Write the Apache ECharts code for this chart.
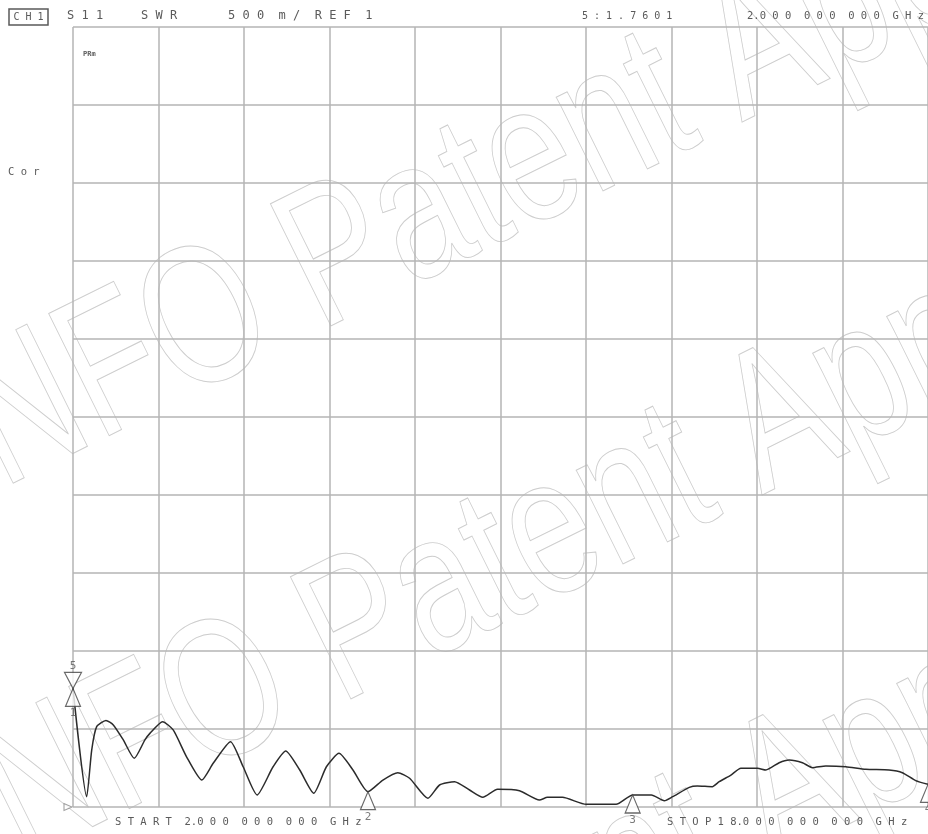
<!DOCTYPE html>
<html>
<head>
<meta charset="utf-8">
<script src="https://cdn.jsdelivr.net/npm/echarts@6/dist/echarts.min.js"></script>
<style>
html,body{margin:0;padding:0;background:#fff;}
#chart{width:928px;height:834px;}
</style>
</head>
<body>
<div id="chart"></div>
<script>
// Trace: S11 SWR vs frequency (GHz)
var freqGHz = [2.000, 2.256, 2.350, 2.443, 2.617, 2.754, 2.941, 3.146, 3.346, 3.439, 3.677, 3.875, 4.125, 4.411, 4.623, 4.948, 5.184, 5.445, 5.744, 5.981, 6.243, 6.505, 6.742, 6.978, 7.239, 7.520, 7.800, 8.080, 8.299, 8.641, 8.860, 9.140, 9.421, 9.669, 9.944, 10.355, 10.729, 10.879, 11.159, 11.602, 12.163, 12.473, 12.823, 13.066, 13.221, 13.533, 13.682, 13.963, 14.093, 14.312, 14.499, 14.809, 14.966, 15.215, 15.402, 15.650, 15.837, 16.088, 16.462, 16.836, 17.271, 17.520, 17.770, 18.000];
var swr = [1.760, 1.066, 1.365, 1.515, 1.555, 1.526, 1.430, 1.312, 1.430, 1.472, 1.547, 1.494, 1.322, 1.173, 1.280, 1.419, 1.258, 1.077, 1.258, 1.359, 1.237, 1.088, 1.258, 1.344, 1.237, 1.098, 1.173, 1.220, 1.184, 1.056, 1.141, 1.162, 1.109, 1.062, 1.113, 1.104, 1.045, 1.062, 1.062, 1.017, 1.017, 1.077, 1.077, 1.040, 1.066, 1.126, 1.135, 1.130, 1.162, 1.205, 1.248, 1.248, 1.237, 1.284, 1.301, 1.284, 1.252, 1.263, 1.258, 1.242, 1.237, 1.220, 1.169, 1.145];

// Markers (up-pointing, below trace)
var markerIds = ['1', '2', '3', '4'];
var markerFreq = [2.000, 7.520, 12.473, 18.000];
var markerSwr = [1.7601, 1.098, 1.077, 1.145];
// Active marker 5 (down-pointing, above trace)
var marker5Freq = 2.000;
var marker5Swr = 1.7601;
// Reference level
var refLevel = 1;

// Axis scale: 500 m/div, REF 1, 10 divisions; 2-18 GHz, 10 divisions
var yMin = 1, yMax = 6, yDiv = 0.5;
var fStart = 2, fStop = 18;
var xDivisions = 10;

// Annotation texts
var txtHeader = ['S 1 1', 'S W R', '5 0 0  m /  R E F  1'];
var txtMarker = '5 : 1 . 7 6 0 1';
var txtMarkerFreq = '2.0 0 0  0 0 0  0 0 0  G H z';
var txtStart = 'S T A R T  2.0 0 0  0 0 0  0 0 0  G H z';
var txtStop = 'S T O P 1 8.0 0 0  0 0 0  0 0 0  G H z';
var txtCh = 'C H 1';
var txtCor = 'C o r';
var txtWatermark = 'INFO Patent Application';

var chart = echarts.init(document.getElementById('chart'), null, {renderer: 'canvas'});
var mono = 'DejaVu Sans Mono';
var tc = '#5a5a5a';
var gridColor = '#b4b4b4';

var traceData = freqGHz.map(function (f, i) { return [f, swr[i]]; });
var upMarkers = markerFreq.map(function (f, i) { return {value: [f, markerSwr[i]], name: markerIds[i]}; });

function wmText(x, y) {
  return {
    type: 'text', x: x, y: y, rotation: 0.46, scaleX: 0.75, silent: true, z: -10,
    style: {
      text: txtWatermark, fontSize: 198, fontFamily: 'Liberation Sans',
      fill: 'none', stroke: '#cdcdcd', lineWidth: 1, align: 'left', verticalAlign: 'middle'
    }
  };
}

var option = {
  backgroundColor: '#ffffff',
  animation: false,
  grid: {left: 73, top: 27, width: 856, height: 780, containLabel: false},
  xAxis: [
    {type: 'value', min: fStart, max: fStop, show: false},
    {type: 'value', min: 0, max: xDivisions, interval: 1, show: true,
      axisLine: {show: false}, axisTick: {show: false}, axisLabel: {show: false},
      splitLine: {show: true, lineStyle: {color: gridColor, width: 1.5}}}
  ],
  yAxis: {
    type: 'value', min: yMin, max: yMax, interval: yDiv,
    axisLine: {show: false}, axisTick: {show: false}, axisLabel: {show: false},
    splitLine: {show: true, lineStyle: {color: gridColor, width: 1.5}}
  },
  graphic: [
    wmText(-59, 458), wmText(-39, 831), wmText(-29, 1198),
    {type: 'rect', shape: {x: 9, y: 9, width: 39, height: 16},
      style: {fill: 'none', stroke: tc, lineWidth: 1.5}},
    {type: 'text', x: 28.5, y: 17, style: {text: txtCh, fontFamily: mono, fontSize: 10, fill: tc, align: 'center', verticalAlign: 'middle'}},
    {type: 'text', x: 67, y: 16, style: {text: txtHeader[0], fontFamily: mono, fontSize: 12, fill: tc, align: 'left', verticalAlign: 'middle'}},
    {type: 'text', x: 141, y: 16, style: {text: txtHeader[1], fontFamily: mono, fontSize: 12, fill: tc, align: 'left', verticalAlign: 'middle'}},
    {type: 'text', x: 228, y: 16, style: {text: txtHeader[2], fontFamily: mono, fontSize: 12, fill: tc, align: 'left', verticalAlign: 'middle'}},
    {type: 'text', x: 582, y: 16, style: {text: txtMarker, fontFamily: mono, fontSize: 10, fill: tc, align: 'left', verticalAlign: 'middle'}},
    {type: 'text', x: 747, y: 16, style: {text: txtMarkerFreq, fontFamily: mono, fontSize: 10.5, fill: tc, align: 'left', verticalAlign: 'middle'}},
    {type: 'text', x: 8, y: 172, style: {text: txtCor, fontFamily: mono, fontSize: 10.5, fill: tc, align: 'left', verticalAlign: 'middle'}},
    {type: 'text', x: 83, y: 54, style: {text: 'PRm', fontFamily: mono, fontSize: 7, fontWeight: 'bold', fill: tc, align: 'left', verticalAlign: 'middle'}},
    {type: 'text', x: 115, y: 822, style: {text: txtStart, fontFamily: mono, fontSize: 10.5, fill: tc, align: 'left', verticalAlign: 'middle'}},
    {type: 'text', x: 667, y: 822, style: {text: txtStop, fontFamily: mono, fontSize: 10.5, fill: tc, align: 'left', verticalAlign: 'middle'}}
  ],
  series: [
    {
      type: 'line', name: 'S11 SWR', xAxisIndex: 0, data: traceData,
      symbol: 'none', smooth: 0.2, z: 3,
      lineStyle: {color: '#2b2b2b', width: 1.5}
    },
    {
      type: 'scatter', name: 'markers', xAxisIndex: 0, data: upMarkers, z: 4,
      symbol: 'triangle', symbolSize: [15, 18], symbolOffset: [0, 9],
      itemStyle: {color: '#ffffff', borderColor: '#444', borderWidth: 1.2},
      label: {show: true, position: 'bottom', distance: 1, formatter: '{b}',
        fontFamily: mono, fontSize: 11, color: tc}
    },
    {
      type: 'scatter', name: 'marker5', xAxisIndex: 0, z: 4,
      data: [{value: [marker5Freq, marker5Swr], name: '5'}],
      symbol: 'triangle', symbolRotate: 180, symbolSize: [17, 16], symbolOffset: [0, -8],
      itemStyle: {color: '#ffffff', borderColor: '#444', borderWidth: 1.2},
      label: {show: true, position: 'top', distance: 0, formatter: '{b}',
        fontFamily: mono, fontSize: 11, color: tc}
    },
    {
      type: 'scatter', name: 'ref', xAxisIndex: 0, z: 4,
      data: [[fStart, refLevel]],
      symbol: 'triangle', symbolRotate: -90, symbolSize: [7, 8], symbolOffset: [-5, 0],
      itemStyle: {color: '#ffffff', borderColor: '#888', borderWidth: 1}
    }
  ]
};
chart.setOption(option);
</script>
</body>
</html>
